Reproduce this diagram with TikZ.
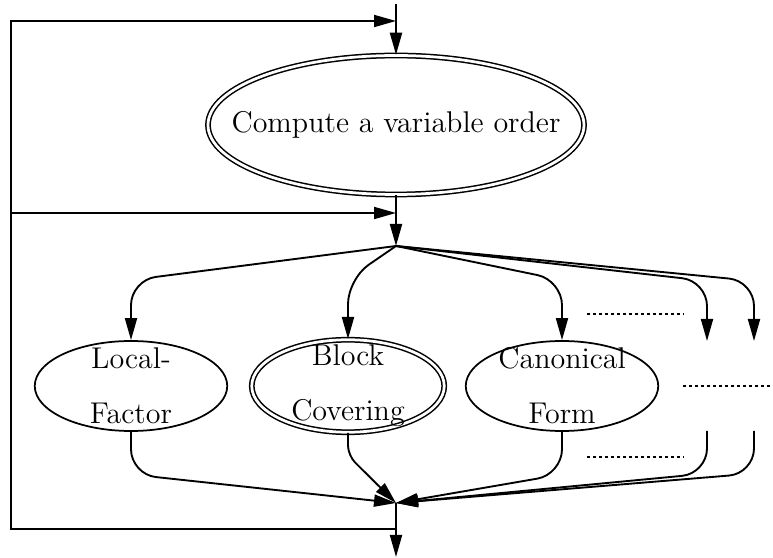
\documentclass[tikz,border=0pt]{standalone}
\usepackage{tikz}
\usetikzlibrary{shapes,arrows.meta,positioning}
\tikzstyle{oval} = [draw,ellipse,line width=0.7pt,inner xsep=0pt,inner ysep=-4pt,minimum width=77pt,minimum height=36pt,align=center]
\tikzstyle{dbloval} = [oval,double,line width=0.6pt,double distance=1.1pt]
\tikzstyle{flow} = [-{Triangle[length=8.8pt,width=4.8pt]},line width=0.75pt]
\tikzstyle{elbow} = [flow,rounded corners=\rc]
\tikzstyle{dotline} = [line width=0.7pt,dash pattern=on 1.2pt off 1.2pt]
\def \rc {10pt}
\def \up {24pt}
\def \dn {17pt}

\begin{document}
\begin{tikzpicture}[font=\large,x=0.4pt,y=-0.4pt]
  \useasboundingbox (0,0) rectangle (773,558);
  \node[dbloval,minimum width=150.4pt,minimum height=55.6pt,inner xsep=-14pt,inner ysep=0pt] (order) at (396,125) {Compute a variable order};
  \node[oval] (lf) at (131,386) {Local-\\[8pt]Factor};
  \node[dbloval,minimum height=37pt] (bc) at (348,386) {Block\\[8pt]Covering};
  \node[oval] (cf) at (562,386) {Canonical\\[8pt]Form};
  \coordinate (in) at (396,4);
  \coordinate (loopA) at (396,21);
  \coordinate (loopB) at (396,213);
  \coordinate (split) at (396,246);
  \coordinate (merge) at (396,503);
  \coordinate (loopC) at (396,529);
  \coordinate (out) at (396,557);
  \coordinate (ct) at (11,21);
  \coordinate (cm) at (11,213);
  \coordinate (cl) at (11,529);
  \coordinate (d1in) at (707,341);
  \coordinate (d1out) at (707,431);
  \coordinate (d2in) at (754,341);
  \coordinate (d2out) at (754,431);
  \draw[flow] (in) -- (order.north);
  \draw[flow] (order.south) -- (split);
  \draw[flow] (loopC) -- (cl) -- (ct) -- (loopA);
  \draw[flow] (cm) -- (loopB);
  \foreach \x in {lf.north,bc.north,cf.north,d1in,d2in}
    \draw[elbow] (split) -- ([yshift=\up]\x) -- (\x);
  \foreach \x in {lf.south,cf.south,d1out,d2out}
    \draw[elbow] (\x) -- ([yshift=-\dn]\x) -- (merge);
  \draw[elbow,rounded corners=4pt] (bc.south) -- ([yshift=-9pt]bc.south) -- (merge);
  \draw[flow] (merge) -- (out);
  \draw[dotline] (587,314) -- (684,314);
  \draw[dotline] (683,386) -- (773,386);
  \draw[dotline] (587,457) -- (684,457);
\end{tikzpicture}
\end{document}
